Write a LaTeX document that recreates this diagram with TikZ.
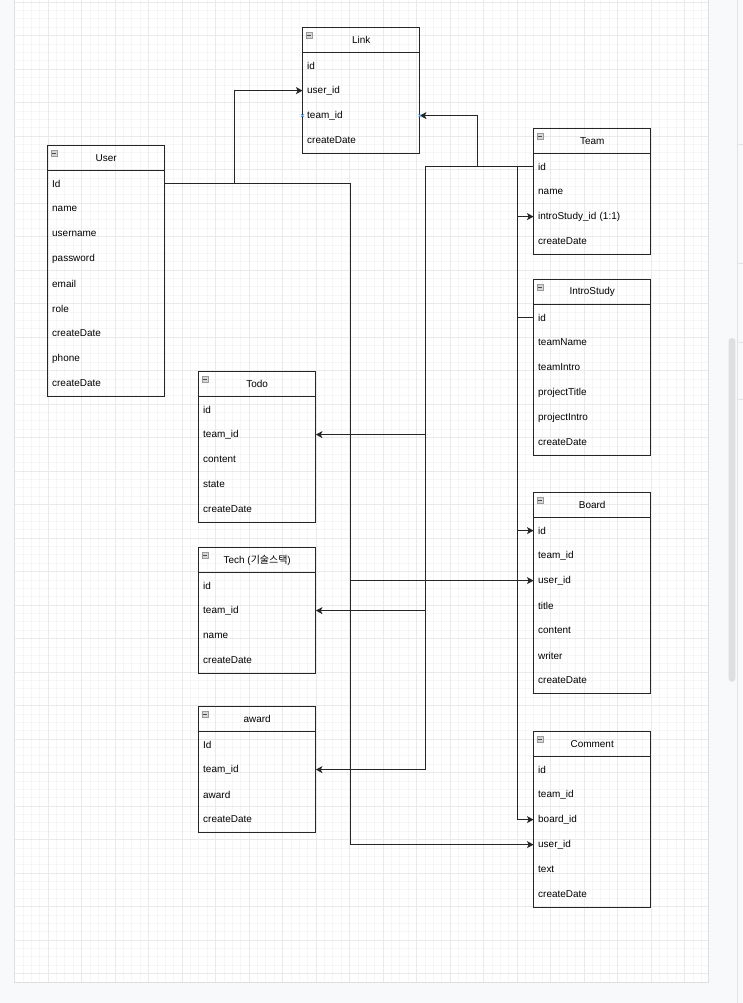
\documentclass[tikz,border=0pt]{standalone}
\usepackage{fontspec}
\setmainfont{Liberation Sans}
\newfontfamily\cjkfont{Noto Sans CJK KR}
\usetikzlibrary{positioning, arrows.meta, calc, fit}

\definecolor{pagebg}{HTML}{F8F9FA}
\definecolor{gridminor}{HTML}{F6F6F6}
\definecolor{gridmajor}{HTML}{EAEAEA}
\definecolor{linec}{HTML}{262626}
\definecolor{iconfill}{HTML}{D6D6D6}
\definecolor{iconline}{HTML}{9A9A9A}
\definecolor{hoverx}{HTML}{5AA6E6}
\definecolor{panelline}{HTML}{E2E3E5}
\definecolor{scrollc}{HTML}{DEDFE0}

\begin{document}
\begin{tikzpicture}[
        x=1bp, y=-1bp,
        font=\fontsize{10}{12}\selectfont,
        >=Stealth,
        % Styles
        tblhead/.style={anchor=north west, minimum width=117bp, minimum height=25bp, inner sep=0pt},
        tblrow/.style={anchor=north, minimum height=25bp, text width=108bp, inner xsep=4.5bp, inner ysep=0pt, align=left},
        tblframe/.style={draw=linec, line width=0.9bp, inner sep=0pt},
        iconbox/.style={draw=iconline, fill=iconfill, line width=0.5bp},
        iconbar/.style={draw=black!70, line width=0.8bp},
        arrow/.style={-{Stealth[length=6.5bp, width=7bp, inset=1.6bp]}, draw=linec, line width=0.9bp},
        conn/.style={draw=linec, line width=0.9bp},
        hover/.style={draw=hoverx, line width=0.7bp}
    ]
    \useasboundingbox (0,0) rectangle (743,1003);

    % Canvas, page and grid
    \fill[pagebg] (0,0) rectangle (743,1003);
    \fill[white] (14,0) rectangle (708,982);
    \foreach \k in {0,...,82}
        \draw[gridminor, line width=0.6bp] ({14.5+8.375*\k},0) -- ({14.5+8.375*\k},982);
    \foreach \k in {0,...,117}
        \draw[gridminor, line width=0.6bp] (14,{2+8.375*\k}) -- (708,{2+8.375*\k});
    \foreach \k in {0,...,20}
        \draw[gridmajor, line width=0.7bp] ({14.5+33.5*\k},0) -- ({14.5+33.5*\k},982);
    \foreach \k in {0,...,29}
        \draw[gridmajor, line width=0.7bp] (14,{2+33.5*\k}) -- (708,{2+33.5*\k});
    \draw[gray!25] (14,-1) rectangle (708,982);

    % Side panel and scrollbar
    \draw[panelline] (737.5,0) -- (737.5,1003);
    \foreach \y in {144,263,342,399}
        \draw[panelline] (737.5,\y) -- (743,\y);
    \fill[scrollc, rounded corners=3bp] (728.7,338) rectangle (735.3,681.7);

    % Tables
    \node[tblhead] (link) at (302.5,27.5) {Link};
    \foreach \f [count=\i] in {id, user\_id, team\_id, createDate}
        \node[tblrow] (link-\i) at ($(link.south)+(0,25*\i-25)$) {\f};
    \node[tblframe, fit=(link)(link-4)] {};

    \node[tblhead] (user) at (47.5,145.5) {User};
    \foreach \f [count=\i] in {Id, name, username, password, email, role, createDate, phone, createDate}
        \node[tblrow] (user-\i) at ($(user.south)+(0,25*\i-25)$) {\f};
    \node[tblframe, fit=(user)(user-9)] {};

    \node[tblhead] (team) at (533.5,128.5) {Team};
    \foreach \f [count=\i] in {id, name, introStudy\_id (1:1), createDate}
        \node[tblrow] (team-\i) at ($(team.south)+(0,25*\i-25)$) {\f};
    \node[tblframe, fit=(team)(team-4)] {};

    \node[tblhead] (intro) at (533.5,279.5) {IntroStudy};
    \foreach \f [count=\i] in {id, teamName, teamIntro, projectTitle, projectIntro, createDate}
        \node[tblrow] (intro-\i) at ($(intro.south)+(0,25*\i-25)$) {\f};
    \node[tblframe, fit=(intro)(intro-6)] {};

    \node[tblhead] (todo) at (198.5,371.5) {Todo};
    \foreach \f [count=\i] in {id, team\_id, content, state, createDate}
        \node[tblrow] (todo-\i) at ($(todo.south)+(0,25*\i-25)$) {\f};
    \node[tblframe, fit=(todo)(todo-5)] {};

    \node[tblhead] (tech) at (198.5,547.5) {Tech ({\cjkfont 기술스택})};
    \foreach \f [count=\i] in {id, team\_id, name, createDate}
        \node[tblrow] (tech-\i) at ($(tech.south)+(0,25*\i-25)$) {\f};
    \node[tblframe, fit=(tech)(tech-4)] {};

    \node[tblhead] (board) at (533.5,492.5) {Board};
    \foreach \f [count=\i] in {id, team\_id, user\_id, title, content, writer, createDate}
        \node[tblrow] (board-\i) at ($(board.south)+(0,25*\i-25)$) {\f};
    \node[tblframe, fit=(board)(board-7)] {};

    \node[tblhead] (award) at (198.5,706.5) {award};
    \foreach \f [count=\i] in {Id, team\_id, award, createDate}
        \node[tblrow] (award-\i) at ($(award.south)+(0,25*\i-25)$) {\f};
    \node[tblframe, fit=(award)(award-4)] {};

    \node[tblhead] (comment) at (533.5,731.5) {Comment};
    \foreach \f [count=\i] in {id, team\_id, board\_id, user\_id, text, createDate}
        \node[tblrow] (comment-\i) at ($(comment.south)+(0,25*\i-25)$) {\f};
    \node[tblframe, fit=(comment)(comment-6)] {};

    % Header rules and collapse icons
    \foreach \t in {link, user, team, intro, todo, tech, board, award, comment} {
        \draw[conn] (\t.south west) -- (\t.south east);
        \draw[iconbox] ($(\t.north west)+(3.5,4.5)$) rectangle ++(6,6);
        \draw[iconbar] ($(\t.north west)+(4.8,7.5)$) -- ++(3.4,0);
    }

    % Bus lines
    \coordinate (lbus) at (234.5,0);
    \coordinate (ubus) at (350.5,0);
    \coordinate (obus) at (425.5,0);
    \coordinate (mbus) at (477.5,0);
    \coordinate (ibus) at (517.5,0);

    % User.Id
    \draw[arrow] (user-1.east) -| (lbus |- link-2.west) -- (link-2.west);
    \draw[arrow] (user-1.east) -| (ubus |- board-3.west) -- (board-3.west);
    \draw[arrow] (user-1.east) -| (ubus |- comment-4.west) -- (comment-4.west);

    % Team.id
    \draw[arrow] (team-1.west) -| (mbus |- link-3.east) -- (link-3.east);
    \draw[arrow] (team-1.west) -| (obus |- todo-2.east) -- (todo-2.east);
    \draw[arrow] (team-1.west) -| (obus |- tech-2.east) -- (tech-2.east);
    \draw[arrow] (team-1.west) -| (obus |- award-2.east) -- (award-2.east);
    \draw[arrow] (team-1.west) -| (ibus |- team-3.west) -- (team-3.west);
    \draw[conn] (team-1.west) -| (ibus |- intro-1.west) -- (intro-1.west);
    \draw[arrow] (team-1.west) -| (ibus |- board-1.west) -- (board-1.west);
    \draw[arrow] (team-1.west) -| (ibus |- comment-3.west) -- (comment-3.west);

    % Hover marks on Link.team_id
    \foreach \a in {west, east}
        \draw[hover] ($(link-3.\a)+(-1.6,-1.6)$) -- ++(3.2,3.2) ($(link-3.\a)+(-1.6,1.6)$) -- ++(3.2,-3.2);

\end{tikzpicture}
\end{document}
